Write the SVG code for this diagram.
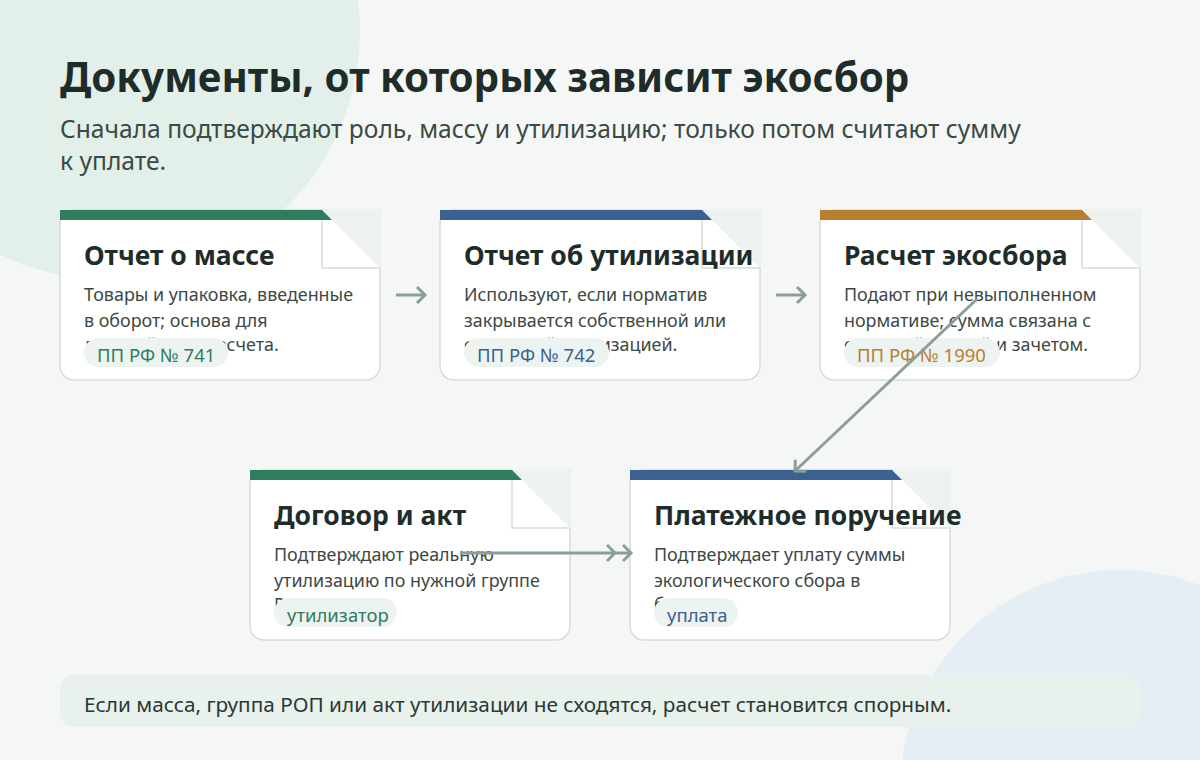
<svg xmlns="http://www.w3.org/2000/svg" width="1200" height="760" viewBox="0 0 1200 760">
<style>
.ttl{font-family:"Noto Sans","Open Sans",sans-serif;font-weight:700;font-size:40.3px;fill:#1f2d2a}
.sub{font-family:"Noto Sans","Open Sans",sans-serif;font-size:24.6px;fill:#3a4a44}
.ct{font-family:"Noto Sans","Open Sans",sans-serif;font-weight:700;font-size:26.5px;fill:#1f2d2a}
.cd{font-family:"Noto Sans","Open Sans",sans-serif;font-size:17.9px;fill:#3d4944}
.pt{font-family:"Noto Sans","Open Sans",sans-serif;font-size:18.5px}
.card{fill:#ffffff;stroke:#d6ddd9;stroke-width:1.5}
.fold{fill:#edf2f0}
.flap{fill:#ffffff}
.flapline{fill:none;stroke:#d6ddd9;stroke-width:1.5}
.pill{fill:#edf3f0}
.note{font-family:"Noto Sans","Open Sans",sans-serif;font-size:20.75px;fill:#2b3833}
.conn{fill:none;stroke:#8aa096;stroke-width:3}
</style>
<defs>
<marker id="arr" markerUnits="userSpaceOnUse" markerWidth="20" markerHeight="20" refX="12" refY="10" orient="auto">
<path d="M4,2 L12,10 L4,18" fill="none" stroke="#8aa096" stroke-width="3"/>
</marker>
<marker id="arr2" markerUnits="userSpaceOnUse" markerWidth="36" markerHeight="20" refX="30" refY="10" orient="auto">
<path d="M6,2 L14,10 L6,18 M22,2 L30,10 L22,18" fill="none" stroke="#8aa096" stroke-width="3"/>
</marker>
</defs>
<rect width="1200" height="760" fill="#f5f7f6"/>
<circle cx="110" cy="30" r="250" fill="#e3efe9"/>
<circle cx="1120" cy="790" r="220" fill="#e6eef5"/>
<text class="ttl" x="60" y="92">Документы, от которых зависит экосбор</text>
<text class="sub" x="60" y="138">Сначала подтверждают роль, массу и утилизацию; только потом считают сумму</text>
<text class="sub" x="60" y="170">к уплате.</text>

<g id="node-mass" transform="translate(60,210)">
<rect class="card" x="0" y="0" width="320" height="170" rx="14"/>
<rect class="fold" x="262" y="-1" width="59" height="59"/>
<polygon class="flap" points="262,0 262,58 320,58"/>
<polyline class="flapline" points="262,0 262,58 320,58"/>
<polygon points="0,0 262,0 272,10 0,10" fill="#2e7d5f"/>
<text class="ct" x="24" y="55">Отчет о массе</text>
<text class="cd" x="24" y="91">Товары и упаковка, введенные</text>
<text class="cd" x="24" y="117">в оборот; основа для</text>
<text class="cd" x="24" y="141">дальнейшего расчета.</text>
<rect class="pill" x="24" y="128" width="144" height="29" rx="14.5"/>
<text class="pt" x="37" y="152" fill="#2e7d5f">ПП РФ № 741</text>
</g>

<g id="node-util" transform="translate(440,210)">
<rect class="card" x="0" y="0" width="320" height="170" rx="14"/>
<rect class="fold" x="262" y="-1" width="59" height="59"/>
<polygon class="flap" points="262,0 262,58 320,58"/>
<polyline class="flapline" points="262,0 262,58 320,58"/>
<polygon points="0,0 262,0 272,10 0,10" fill="#3a6291"/>
<text class="ct" x="24" y="55">Отчет об утилизации</text>
<text class="cd" x="24" y="91">Используют, если норматив</text>
<text class="cd" x="24" y="117">закрывается собственной или</text>
<text class="cd" x="24" y="141">сторонней утилизацией.</text>
<rect class="pill" x="24" y="128" width="145" height="29" rx="14.5"/>
<text class="pt" x="37" y="152" fill="#3a6291">ПП РФ № 742</text>
</g>

<g id="node-calc" transform="translate(820,210)">
<rect class="card" x="0" y="0" width="320" height="170" rx="14"/>
<rect class="fold" x="262" y="-1" width="59" height="59"/>
<polygon class="flap" points="262,0 262,58 320,58"/>
<polyline class="flapline" points="262,0 262,58 320,58"/>
<polygon points="0,0 262,0 272,10 0,10" fill="#b67f32"/>
<text class="ct" x="24" y="55">Расчет экосбора</text>
<text class="cd" x="24" y="91">Подают при невыполненном</text>
<text class="cd" x="24" y="117">нормативе; сумма связана с</text>
<text class="cd" x="24" y="141">отчетной массой и зачетом.</text>
<rect class="pill" x="24" y="128" width="156" height="29" rx="14.5"/>
<text class="pt" x="37" y="152" fill="#b67f32">ПП РФ № 1990</text>
</g>

<g id="node-contract" transform="translate(250,470)">
<rect class="card" x="0" y="0" width="320" height="170" rx="14"/>
<rect class="fold" x="262" y="-1" width="59" height="59"/>
<polygon class="flap" points="262,0 262,58 320,58"/>
<polyline class="flapline" points="262,0 262,58 320,58"/>
<polygon points="0,0 262,0 272,10 0,10" fill="#2e7d5f"/>
<text class="ct" x="24" y="55">Договор и акт</text>
<text class="cd" x="24" y="91">Подтверждают реальную</text>
<text class="cd" x="24" y="117">утилизацию по нужной группе</text>
<text class="cd" x="24" y="141">РОП.</text>
<rect class="pill" x="24" y="128" width="123" height="29" rx="14.5"/>
<text class="pt" x="37" y="152" fill="#2e7d5f">утилизатор</text>
</g>

<g id="node-payment" transform="translate(630,470)">
<rect class="card" x="0" y="0" width="320" height="170" rx="14"/>
<rect class="fold" x="262" y="-1" width="59" height="59"/>
<polygon class="flap" points="262,0 262,58 320,58"/>
<polyline class="flapline" points="262,0 262,58 320,58"/>
<polygon points="0,0 262,0 272,10 0,10" fill="#3a6291"/>
<text class="ct" x="24" y="55">Платежное поручение</text>
<text class="cd" x="24" y="91">Подтверждает уплату суммы</text>
<text class="cd" x="24" y="117">экологического сбора в</text>
<text class="cd" x="24" y="141">бюджет.</text>
<rect class="pill" x="24" y="128" width="84" height="29" rx="14.5"/>
<text class="pt" x="37" y="152" fill="#3a6291">уплата</text>
</g>

<g id="connectors">
<line class="conn" x1="396" y1="295" x2="425" y2="295" marker-end="url(#arr)"/>
<line class="conn" x1="776" y1="295" x2="805" y2="295" marker-end="url(#arr)"/>
<line class="conn" x1="977" y1="299" x2="795" y2="471" marker-end="url(#arr)"/>
<line class="conn" x1="460" y1="553" x2="631" y2="553" marker-end="url(#arr2)"/>
</g>

<g id="note">
<rect x="60" y="675" width="1080" height="52" rx="14" fill="#e8f1ec"/>
<text class="note" x="84" y="712">Если масса, группа РОП или акт утилизации не сходятся, расчет становится спорным.</text>
</g>
</svg>
